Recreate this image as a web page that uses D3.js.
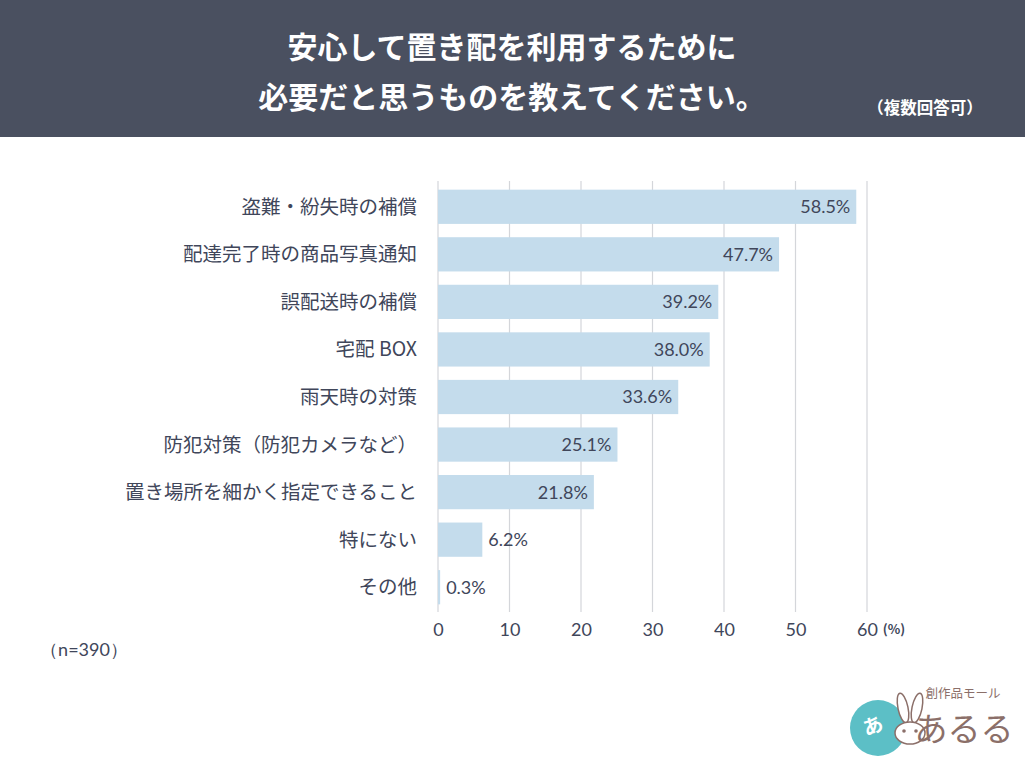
<!DOCTYPE html>
<html>
<head>
<meta charset="utf-8">
<script src="https://cdn.jsdelivr.net/npm/d3@7"></script>
<style>
  body { margin: 0; background: #fff; }
  svg { display: block; font-family: "Noto Sans CJK JP", "Noto Sans", sans-serif; }
</style>
</head>
<body>
<svg width="1025" height="768"></svg>
<script>
const categories = ["盗難・紛失時の補償", "配達完了時の商品写真通知", "誤配送時の補償", "宅配 BOX", "雨天時の対策",
  "防犯対策（防犯カメラなど）", "置き場所を細かく指定できること", "特にない", "その他"];
const values = [58.5, 47.7, 39.2, 38.0, 33.6, 25.1, 21.8, 6.2, 0.3];
const ticks = [0, 10, 20, 30, 40, 50, 60];
const titleLines = ["安心して置き配を利用するために", "必要だと思うものを教えてください。"];

const svg = d3.select("svg");
const textColor = "#40465a";
const numFont = "Lato, 'Noto Sans', sans-serif";

// header band
svg.append("rect").attr("x", 0).attr("y", 0).attr("width", 1025).attr("height", 137).attr("fill", "#4a5060");
svg.selectAll(".title").data(titleLines).enter().append("text")
    .attr("x", 512).attr("y", (d, i) => 58 + i * 50)
    .attr("text-anchor", "middle").attr("fill", "#fff")
    .attr("font-size", 30).attr("font-weight", 700)
    .text(d => d);
svg.append("text").attr("x", 925).attr("y", 114).attr("text-anchor", "middle")
    .attr("fill", "#fff").attr("font-size", 16.5).attr("font-weight", 700).text("（複数回答可）");

const x = d3.scaleLinear().domain([0, 60]).range([438, 867]);
const y = d3.scaleBand().domain(categories).range([183, 611]).paddingInner(0.28).paddingOuter(0.14);

// grid
svg.selectAll(".grid").data(ticks).enter().append("line")
    .attr("x1", d => x(d)).attr("x2", d => x(d))
    .attr("y1", 181).attr("y2", 612)
    .attr("stroke", "#d4d6da").attr("stroke-width", 1.2);

// bars
svg.selectAll(".bar").data(values).enter().append("rect")
    .attr("x", x(0)).attr("y", (d, i) => y(categories[i]))
    .attr("width", d => x(d) - x(0)).attr("height", y.bandwidth())
    .attr("fill", "#c4dcec");

// value labels
svg.selectAll(".val").data(values).enter().append("text")
    .attr("x", d => d < 10 ? x(d) + 6 : x(d) - 6)
    .attr("y", (d, i) => y(categories[i]) + y.bandwidth() / 2)
    .attr("dy", "0.36em")
    .attr("text-anchor", d => d < 10 ? "start" : "end")
    .attr("fill", textColor).attr("font-size", 18)
    .attr("font-family", numFont)
    .text(d => d.toFixed(1) + "%");

// category labels
svg.selectAll(".cat").data(categories).enter().append("text")
    .attr("x", 417).attr("y", d => y(d) + y.bandwidth() / 2)
    .attr("dy", "0.36em").attr("text-anchor", "end")
    .attr("fill", textColor).attr("font-size", 19.5)
    .text(d => d);

// x axis
const axis = svg.append("g").attr("transform", "translate(0,630)")
    .call(d3.axisBottom(x).tickValues(ticks).tickSize(0).tickPadding(0));
axis.select(".domain").remove();
axis.selectAll("text").attr("fill", textColor).attr("font-size", 18)
    .attr("font-family", numFont).attr("dy", "0.36em");
svg.append("text").attr("x", 894).attr("y", 629).attr("dy", "0.36em")
    .attr("text-anchor", "middle").attr("fill", textColor).attr("font-size", 13)
    .attr("font-weight", 700).text("(%)");

svg.append("text").attr("x", 84).attr("y", 650).attr("dy", "0.36em")
    .attr("text-anchor", "middle").attr("fill", textColor).attr("font-size", 18)
    .attr("font-family", numFont).text("（n=390）");

// logo
const brown = "#8b6f69";
const logo = svg.append("g");
logo.append("circle").attr("cx", 878).attr("cy", 728).attr("r", 28).attr("fill", "#5cbfc6");
logo.append("text").attr("x", 866).attr("y", 736).attr("fill", "#fff").attr("font-size", 20)
    .attr("font-weight", 700).attr("transform", "rotate(-20,866,736)").text("あ");
// rabbit
const rabbit = logo.append("g").attr("fill", "#fff").attr("stroke", brown).attr("stroke-width", 1.5);
rabbit.append("ellipse").attr("cx", 903).attr("cy", 708).attr("rx", 5).attr("ry", 15).attr("transform", "rotate(-12,903,708)");
rabbit.append("ellipse").attr("cx", 917).attr("cy", 708).attr("rx", 5).attr("ry", 15).attr("transform", "rotate(12,917,708)");
rabbit.append("ellipse").attr("cx", 910).attr("cy", 733).attr("rx", 15).attr("ry", 11);
logo.append("circle").attr("cx", 904).attr("cy", 731).attr("r", 1.8).attr("fill", brown);
logo.append("circle").attr("cx", 916).attr("cy", 731).attr("r", 1.8).attr("fill", brown);
logo.append("text").attr("x", 963).attr("y", 698).attr("text-anchor", "middle")
    .attr("fill", brown).attr("font-size", 12.5).text("創作品モール");
logo.append("text").attr("x", 964).attr("y", 741).attr("text-anchor", "middle")
    .attr("fill", brown).attr("font-size", 33).text("あるる");
</script>
</body>
</html>
